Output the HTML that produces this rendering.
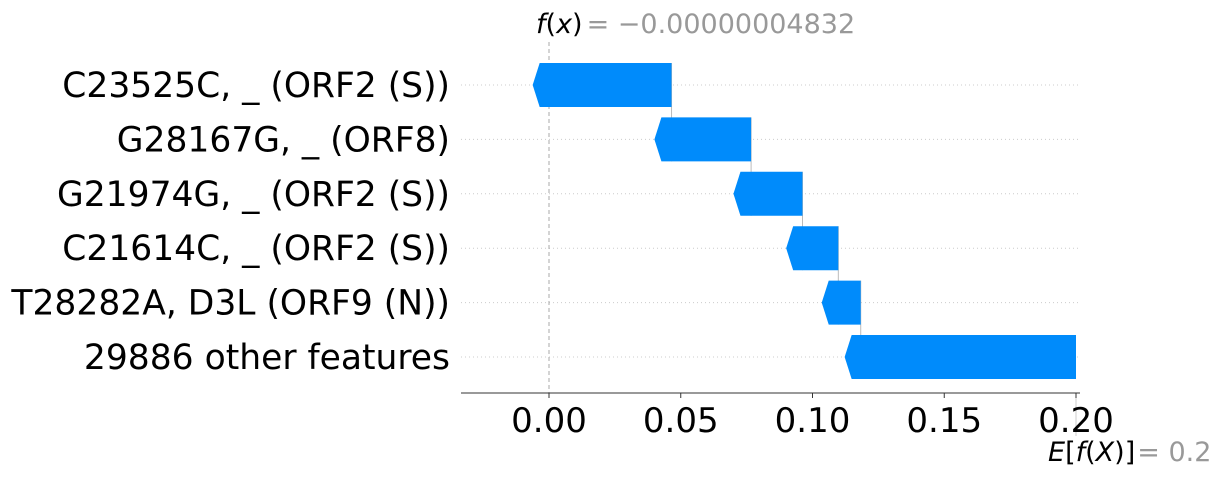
<!DOCTYPE html>
<html><head><meta charset="utf-8"><style>
html,body{margin:0;padding:0;background:#fff;}
svg{display:block;font-family:"DejaVu Sans","Liberation Sans",sans-serif;}
</style></head><body>
<svg id="chart" width="1218" height="477"></svg>
<script>
const features = ["C23525C, _ (ORF2 (S))","G28167G, _ (ORF8)","G21974G, _ (ORF2 (S))","C21614C, _ (ORF2 (S))","T28282A, D3L (ORF9 (N))","29886 other features"];
const barStart = [0.0465, 0.0767, 0.0962, 0.1098, 0.1183, 0.2000];
const barEnd = [-0.0062, 0.0400, 0.0700, 0.0900, 0.1035, 0.1122];
const ticks = [0.00, 0.05, 0.10, 0.15, 0.20];
const tickLabels = ["0.00","0.05","0.10","0.15","0.20"];
const fxLabel = "= \u22120.00000004832";
const efxLabel = "= 0.2";

const NS = "http://www.w3.org/2000/svg";
const svg = document.getElementById("chart");
const x0 = 549, x1 = 1076;
const xs = v => x0 + (v - 0) / 0.2 * (x1 - x0);
const rowY = i => 85 + i * 54.4;
const barH = 44;
function mk(tag, attrs, parent) {
  const e = document.createElementNS(NS, tag);
  for (const k in attrs) e.setAttribute(k, attrs[k]);
  (parent || svg).appendChild(e);
  return e;
}
features.forEach((f, i) => {
  const g = mk("line", {x1: 461, x2: 1080, y1: rowY(i), y2: rowY(i), stroke: "#ccc", "stroke-width": 1, "stroke-dasharray": "1,3"});
  
  
});
let d = mk("line", {x1: xs(0), x2: xs(0), y1: 42, y2: 393, stroke: "#aaa", "stroke-width": 1, "stroke-dasharray": "4,3"});


d = mk("line", {x1: xs(0.2), x2: xs(0.2), y1: 393, y2: 436, stroke: "#ccc", "stroke-width": 1});


for (let i = 0; i < features.length - 1; i++) {
  const c = mk("line", {x1: xs(barStart[i]), x2: xs(barStart[i]), y1: rowY(i) - barH/2, y2: rowY(i + 1) + barH/2, stroke: "#bbb", "stroke-width": 1});
  
  
}
features.forEach((f, i) => {
  const r = xs(barStart[i]), l = xs(barEnd[i]), y = rowY(i), h = barH / 2, head = 7;
  const p = mk("path", {d: `M${r},${y-h} L${l+head},${y-h} L${l},${y} L${l+head},${y+h} L${r},${y+h} Z`, fill: "#008bfb"});
  
  
  const t = mk("text", {x: 450, y: y + 12, "text-anchor": "end", "font-size": 34.5, fill: "#000"});
  t.textContent = f;
  
  
});
const ax = mk("line", {x1: 461, x2: 1080, y1: 393, y2: 393, stroke: "#333", "stroke-width": 1});


ticks.forEach((v, i) => {
  const tk = mk("line", {x1: xs(v), x2: xs(v), y1: 393, y2: 398, stroke: "#333"});
  
  
  const tl = mk("text", {x: xs(v), y: 432, "text-anchor": "middle", "font-size": 34, fill: "#000"});
  tl.textContent = tickLabels[i];
  
  
});
const ft = mk("text", {x: 536, y: 33, "font-size": 27});


ft.innerHTML = '<tspan font-style="italic">f</tspan>(<tspan font-style="italic">x</tspan>)<tspan fill="#999" dx="4"></tspan>';
ft.lastChild.textContent = fxLabel;
const et = mk("text", {x: 1048, y: 461, "font-size": 27});


et.innerHTML = '<tspan font-style="italic">E</tspan>[<tspan font-style="italic">f</tspan>(<tspan font-style="italic">X</tspan>)]<tspan fill="#999" dx="2"></tspan>';
et.lastChild.textContent = efxLabel;
</script>
</body></html>
